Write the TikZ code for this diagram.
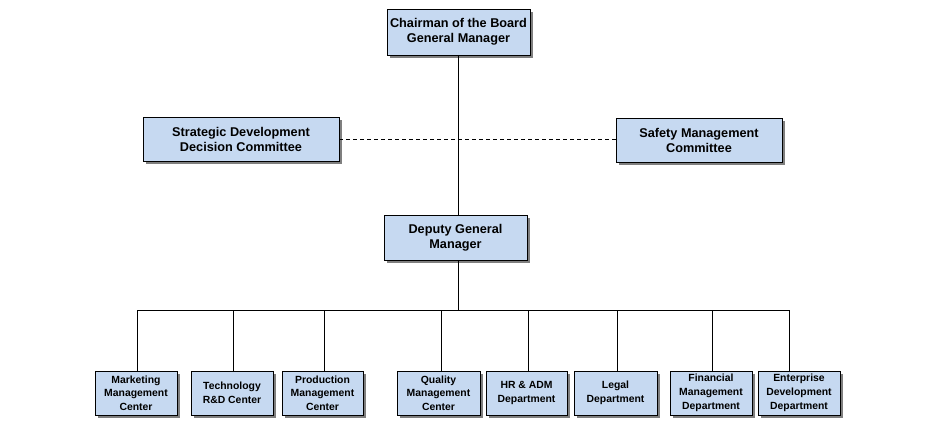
\documentclass[tikz,border=0pt]{standalone}
\usepackage{fontspec}
\setmainfont{Liberation Sans}
\usetikzlibrary{shadows}
\definecolor{boxfill}{HTML}{C6D9F1}
\definecolor{shadowgray}{HTML}{7F7F7F}
\tikzset{
  orgbox/.style={draw=black, line width=0.9pt, fill=boxfill, align=center,
    inner sep=0pt, font=\fontsize{12.7}{15}\selectfont\bfseries,
    drop shadow={shadow xshift=3pt, shadow yshift=-3pt, fill=shadowgray, opacity=1}},
  smallbox/.style={orgbox, minimum height=44pt, font=\fontsize{10.4}{13.7}\selectfont\bfseries},
  link/.style={draw=black, line width=0.8pt},
  dashlink/.style={link, dash pattern=on 4pt off 3pt}
}
\begin{document}
\begin{tikzpicture}[x=1pt, y=-1pt]
\useasboundingbox (0,0) rectangle (925,430);
\fill[white] (0,0) rectangle (925,430);

\node[orgbox, minimum width=143pt, minimum height=46pt] (top) at (458.5,32) {Chairman of the Board\\General Manager};
\node[orgbox, minimum width=196pt, minimum height=44pt] (strat) at (241,139) {Strategic Development\\Decision Committee};
\node[orgbox, minimum width=166pt, minimum height=44pt] (safe) at (699,140) {Safety Management\\Committee};
\node[orgbox, minimum width=143pt, minimum height=45pt] (dep) at (455.5,237.5) {Deputy General\\Manager};

\node[smallbox, minimum width=82pt] (b1) at (136,393) {Marketing\\Management\\Center};
\node[smallbox, minimum width=82pt] (b2) at (232,393) {Technology\\R\&D Center};
\node[smallbox, minimum width=81pt] (b3) at (322.5,393) {Production\\Management\\Center};
\node[smallbox, minimum width=83pt] (b4) at (438.5,393) {Quality\\Management\\Center};
\node[smallbox, minimum width=81pt] (b5) at (526.5,393) {HR \& ADM\\Department};
\node[smallbox, minimum width=83pt] (b6) at (615.5,393) {Legal\\Department};
\node[smallbox, minimum width=82pt] (b7) at (711,393) {Financial\\Management\\Department};
\node[smallbox, minimum width=82pt] (b8) at (799,393) {Enterprise\\Development\\Department};

\coordinate (hubtop) at (458,55);
\coordinate (hubdep) at (458,215);
\coordinate (hubdepb) at (458,260);
\coordinate (bus) at (458,310);
\coordinate (busL) at (137,310);
\coordinate (busR) at (789,310);

\draw[link] (top.south -| hubtop) -- (hubdep);
\draw[dashlink] (strat.east) -- (safe.west |- strat.east);
\draw[link] (hubdepb) -- (bus);
\draw[link] (busL) -- (busR);
\draw[link] (busL) -- (busL |- b1.north);
\draw[link] (233,310) -- (233,371);
\draw[link] (324,310) -- (324,371);
\draw[link] (441,310) -- (441,371);
\draw[link] (528,310) -- (528,371);
\draw[link] (617,310) -- (617,371);
\draw[link] (712,310) -- (712,371);
\draw[link] (busR) -- (busR |- b8.north);
\end{tikzpicture}
\end{document}
